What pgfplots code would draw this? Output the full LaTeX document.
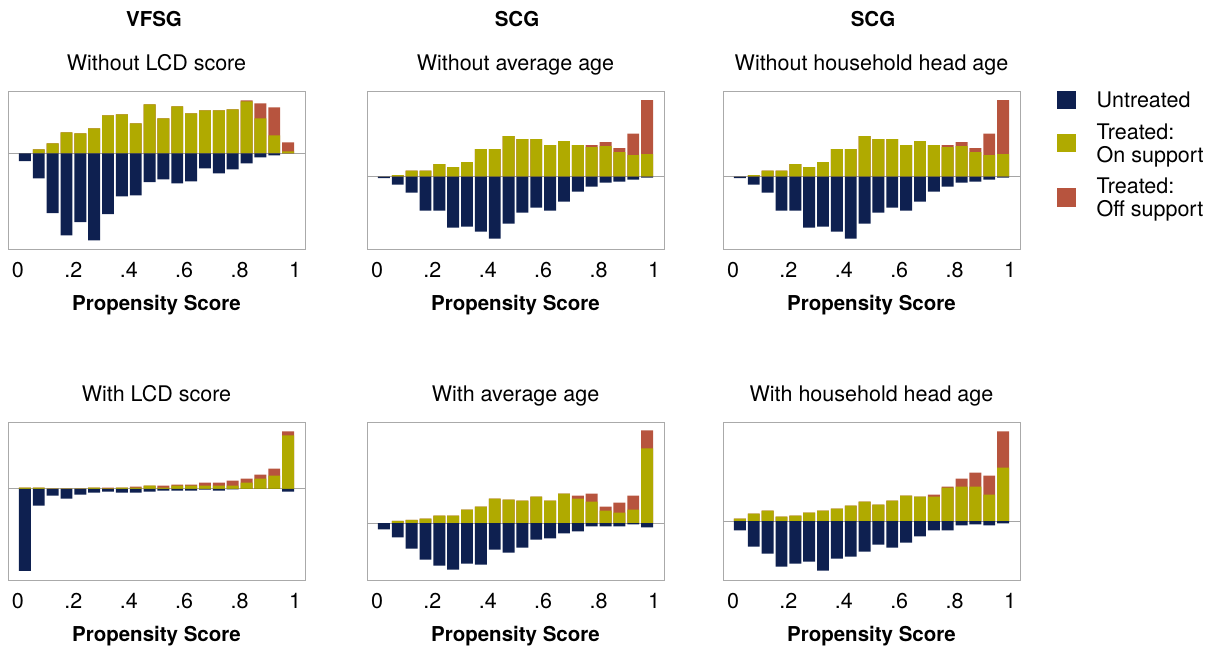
\documentclass[border=0pt]{standalone}
\usepackage{fontspec}
\setmainfont{TeX Gyre Heros}
\usepackage{pgfplots}
\usepackage{pgfplotstable}
\pgfplotsset{compat=1.18}
\definecolor{navyc}{RGB}{14,32,80}
\definecolor{olivec}{RGB}{176,170,0}
\definecolor{redc}{RGB}{183,84,62}
\definecolor{framegray}{RGB}{170,170,170}
\definecolor{zerogray}{RGB}{165,165,165}

% columns: bin centre, treated on support, treated total (on + off support), untreated (drawn downward)
\pgfplotstableread{
x on tot unt
0.025 0 0 -23
0.075 12 12 -75
0.125 30 30 -179
0.175 63 63 -246
0.225 60 60 -206
0.275 75 75 -261
0.325 114 114 -182
0.375 117 117 -129
0.425 90 90 -126
0.475 147 147 -86
0.525 105 105 -78
0.575 141 141 -90
0.625 120 120 -84
0.675 129 129 -45
0.725 129 129 -60
0.775 132 132 -48
0.825 156 159 -30
0.875 105 150 -12
0.925 54 138 -6
0.975 6 33 0
}\tabA
\pgfplotstableread{
x on tot unt
0.025 0 0 -4
0.075 5 5 -24
0.125 18 18 -48
0.175 18 18 -102
0.225 38 38 -102
0.275 29 29 -153
0.325 44 44 -150
0.375 83 83 -165
0.425 83 83 -186
0.475 122 122 -141
0.525 113 113 -108
0.575 113 113 -93
0.625 95 95 -102
0.675 107 107 -75
0.725 95 95 -45
0.775 89 95 -30
0.825 92 104 -18
0.875 74 86 -15
0.925 65 129 -9
0.975 68 230 -3
}\tabB
\pgfplotstableread{
x on tot unt
0.025 0 0 -4
0.075 5 5 -24
0.125 18 18 -48
0.175 18 18 -102
0.225 38 38 -102
0.275 29 29 -153
0.325 44 44 -150
0.375 83 83 -165
0.425 83 83 -186
0.475 122 122 -141
0.525 113 113 -108
0.575 113 113 -93
0.625 95 95 -102
0.675 107 107 -75
0.725 95 95 -45
0.775 89 95 -30
0.825 92 104 -18
0.875 74 86 -15
0.925 65 129 -9
0.975 68 230 -3
}\tabC
\pgfplotstableread{
x on tot unt
0.025 4 4 -245
0.075 4 4 -50
0.125 1 1 -20
0.175 1 1 -29
0.225 1 1 -17
0.275 4 4 -11
0.325 2 4 -8
0.375 4 4 -11
0.425 4 7 -11
0.475 10 10 -8
0.525 4 10 -5
0.575 10 13 -5
0.625 10 13 -5
0.675 10 19 -2
0.725 10 19 -5
0.775 10 25 -1.5
0.825 19 31 0
0.875 31 43 0
0.925 40 61 0
0.975 160 172 -8
}\tabD
\pgfplotstableread{
x on tot unt
0.025 0 0 -19
0.075 7 7 -43
0.125 10 10 -76
0.175 13 13 -109
0.225 22 22 -127
0.275 22 22 -139
0.325 40 40 -121
0.375 49 49 -124
0.425 73 73 -79
0.475 70 70 -88
0.525 67 67 -73
0.575 79 79 -49
0.625 67 67 -46
0.675 88 88 -31
0.725 73 82 -25
0.775 64 88 -10
0.825 37 49 -10
0.875 31 61 -10
0.925 40 82 -4
0.975 223 277 -13
}\tabE
\pgfplotstableread{
x on tot unt
0.025 7 7 -28
0.075 22 22 -76
0.125 31 31 -97
0.175 13 13 -136
0.225 16 16 -127
0.275 25 25 -121
0.325 31 31 -148
0.375 37 37 -112
0.425 46 46 -106
0.475 58 58 -91
0.525 49 49 -70
0.575 61 61 -79
0.625 76 76 -64
0.675 73 73 -46
0.725 73 79 -28
0.775 100 103 -28
0.825 103 127 -13
0.875 103 145 -10
0.925 79 136 -13
0.975 160 268 -7
}\tabF

\newcommand{\regfont}{\fontsize{21.5bp}{23.4bp}\selectfont}
\newcommand{\boldfont}{\fontsize{20.5bp}{23.4bp}\selectfont\bfseries}

\pgfplotsset{
  panel/.style={
    scale only axis, width=297bp, height=158bp, anchor=north west,
    xmin=-0.036, xmax=1.036,
    axis line style={draw=framegray, line width=1bp},
    xtick={0,0.2,0.4,0.6,0.8,1}, xticklabels={0,.2,.4,.6,.8,1},
    major tick length=0pt, minor tick length=0pt,
    ytick=\empty,
    extra y ticks={0}, extra y tick labels={},
    extra y tick style={grid=major, major grid style={draw=zerogray, line width=1bp}},
    /pgf/number format/assume math mode=true,
    xticklabel style={anchor=base, yshift=-28.7bp, inner sep=0pt, font=\regfont},
    xlabel={Propensity Score},
    xlabel style={at={(axis description cs:0.5,0)}, anchor=base, yshift=-61bp, inner sep=0pt, font=\boldfont},
    title style={at={(axis description cs:0.5,1)}, anchor=base, yshift=14.3bp, inner sep=0pt, font=\regfont},
  },
  hbar/.style={ybar, bar width=0.043, bar shift=0pt, draw=none, fill=#1, forget plot},
}

\newcommand{\panelplots}[1]{%
  \addplot[hbar=redc] table[x=x, y=tot] {#1};
  \addplot[hbar=olivec] table[x=x, y=on] {#1};
  \addplot[hbar=navyc] table[x=x, y=unt] {#1};
}

\begin{document}
\begin{tikzpicture}[font=\regfont]
\path[use as bounding box] (0,0) rectangle (1215bp,-648bp);

\node[anchor=base, font=\boldfont] at (154bp,-26.7bp) {VFSG};
\node[anchor=base, font=\boldfont] at (517bp,-26.7bp) {SCG};
\node[anchor=base, font=\boldfont] at (873bp,-26.7bp) {SCG};

\begin{axis}[panel, at={(8bp,-91bp)}, ymin=-287, ymax=187, title={Without LCD score}]
\panelplots{\tabA}
\end{axis}

\begin{axis}[panel, at={(367bp,-91bp)}, ymin=-217, ymax=257, title={Without average age}]
\panelplots{\tabB}
\end{axis}

\begin{axis}[panel, at={(723bp,-91bp)}, ymin=-217, ymax=257, title={Without household head age},
  legend style={at={(axis description cs:1,1)}, anchor=north west, xshift=37bp, yshift=1bp,
    draw=none, fill=none, inner sep=0pt, row sep=10bp, column sep=0bp,
    cells={anchor=west, align=left, inner sep=0bp},
    font=\regfont},
  legend image code/.code={\fill[#1] (0bp,-8.5bp) rectangle (18.5bp,10bp);},
  legend cell align=left]
\panelplots{\tabC}
\addlegendimage{fill=navyc, draw=none}
\addlegendentry{\hspace{19bp}Untreated}
\addlegendimage{fill=olivec, draw=none}
\addlegendentry{\hspace{19bp}Treated:\\\hspace{19bp}On support}
\addlegendimage{fill=redc, draw=none}
\addlegendentry{\hspace{19bp}Treated:\\\hspace{19bp}Off support}
\end{axis}

\begin{axis}[panel, at={(8bp,-422bp)}, ymin=-272, ymax=200, title={With LCD score}]
\panelplots{\tabD}
\end{axis}

\begin{axis}[panel, at={(367bp,-422bp)}, ymin=-170, ymax=302, title={With average age}]
\panelplots{\tabE}
\end{axis}

\begin{axis}[panel, at={(723bp,-422bp)}, ymin=-176, ymax=296, title={With household head age}]
\panelplots{\tabF}
\end{axis}
\end{tikzpicture}
\end{document}
